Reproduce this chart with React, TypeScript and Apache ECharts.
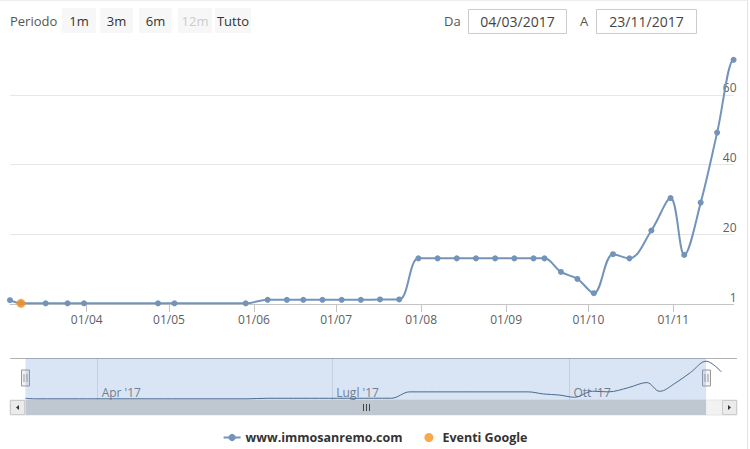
import React, { useEffect, useRef } from "react";
import * as echarts from "echarts";

// ---- data ----
const pointDates = [
  "2017-03-04", "2017-03-08", "2017-03-17", "2017-03-25", "2017-03-31", "2017-04-27", "2017-05-03", "2017-05-29",
  "2017-06-06", "2017-06-13", "2017-06-19", "2017-06-26", "2017-07-03", "2017-07-10", "2017-07-17", "2017-07-24",
  "2017-07-31", "2017-08-07", "2017-08-14", "2017-08-21", "2017-08-28", "2017-09-04", "2017-09-11", "2017-09-15",
  "2017-09-21", "2017-09-27", "2017-10-03", "2017-10-10", "2017-10-16", "2017-10-24", "2017-10-31", "2017-11-05",
  "2017-11-11", "2017-11-17", "2017-11-23", "2017-11-29",
];
const pointValues = [
  1.1, 0.2, 0.2, 0.2, 0.2, 0.2, 0.2, 0.2,
  1.2, 1.2, 1.2, 1.2, 1.2, 1.2, 1.3, 1.3,
  13.1, 13.1, 13.1, 13.1, 13.1, 13.1, 13.1, 13.1,
  9.2, 7.2, 3.1, 14.3, 13.1, 21.1, 30.4, 14.1,
  29.1, 49.2, 70.1, 50,
];
const eventDates = ["2017-03-08"];
const eventValues = [0.2];

const monthTicks = ["2017-04-01", "2017-05-01", "2017-06-01", "2017-07-01", "2017-08-01", "2017-09-01", "2017-10-01", "2017-11-01"];
const quarterTicks = ["2017-04-01", "2017-07-01", "2017-10-01"];
const quarterLabels = ["Apr '17", "Lugl '17", "Ott '17"];
const yTickValues = [0, 20, 40, 60];
const yTickLabels = ["1", "20", "40", "60"];

const rangeStart = "2017-03-04";
const rangeEnd = "2017-11-23";
const navStart = "2017-02-26";
const navEnd = "2017-12-05";

const periodButtons = ["1m", "3m", "6m", "12m", "Tutto"];
const disabledButton = "12m";
const seriesName = "www.immosanremo.com";
const eventName = "Eventi Google";

// ---- helpers ----
function ts(s: string): number {
  const [y, m, d] = s.split("-").map(Number);
  return new Date(y, m - 1, d).getTime();
}
function pad(n: number): string {
  return n < 10 ? "0" + n : "" + n;
}
function fmtDay(s: string): string {
  const d = new Date(ts(s));
  return pad(d.getDate()) + "/" + pad(d.getMonth() + 1) + "/" + d.getFullYear();
}

const LINE_COLOR = "#7394b8";
const EVENT_COLOR = "#f7931e";
const FONT = "'Open Sans', 'DejaVu Sans', sans-serif";
const NAV_TOP = 358;
const NAV_H = 42;

export default function App() {
  const ref = useRef<HTMLDivElement>(null);

  useEffect(() => {
    document.body.style.margin = "0";
    if (!ref.current) return;
    const chart = echarts.init(ref.current, undefined, { renderer: "svg" });

    const lineData = pointDates.map((d, i) => [ts(d), pointValues[i]]);
    const eventData = eventDates.map((d, i) => [ts(d), eventValues[i]]);
    const monthTs = monthTicks.map(ts);
    const quarterTs = quarterTicks.map(ts);

    chart.setOption({
      animation: false,
      backgroundColor: "#ffffff",
      grid: [
        { left: 10, right: 16.4, top: 25.3, height: 278.7 },
        { left: 10, right: 13, top: NAV_TOP, height: NAV_H },
      ],
      legend: {
        data: [seriesName, eventName],
        left: "center",
        top: 431,
        padding: 0,
        itemWidth: 17,
        itemHeight: 9,
        itemGap: 22,
        textStyle: { fontFamily: FONT, fontWeight: "bold", fontSize: 12.5, color: "#333333" },
      },
      xAxis: [
        {
          type: "value",
          gridIndex: 0,
          min: ts(rangeStart),
          max: ts(rangeEnd),
          axisLine: { lineStyle: { color: "#c4c4c4" } },
          axisTick: { show: true, length: 8, lineStyle: { color: "#c4c4c4" }, customValues: monthTs },
          axisLabel: {
            customValues: monthTs,
            formatter: (v: number) => {
              const d = new Date(v);
              return pad(d.getDate()) + "/" + pad(d.getMonth() + 1);
            },
            color: "#606060",
            fontSize: 12,
            fontFamily: FONT,
            margin: 9,
          },
          splitLine: { show: false },
        },
        {
          type: "value",
          gridIndex: 1,
          min: ts(navStart),
          max: ts(navEnd),
          axisLine: { show: false },
          axisTick: { show: false },
          splitLine: { show: false },
          axisLabel: {
            customValues: quarterTs,
            inside: true,
            align: "left",
            verticalAlign: "bottom",
            margin: 2,
            padding: [0, 0, 0, 4],
            formatter: (v: number) => {
              const i = quarterTs.indexOf(v);
              return i >= 0 ? quarterLabels[i] : "";
            },
            color: "#777777",
            fontSize: 12,
            fontFamily: FONT,
          },
        },
      ],
      yAxis: [
        {
          type: "value",
          gridIndex: 0,
          position: "right",
          min: 0,
          max: 80,
          interval: 20,
          axisLine: { show: false },
          axisTick: { show: false },
          splitLine: {
            lineStyle: { color: ["#c4c4c4", "#e6e6e6", "#e6e6e6", "#e6e6e6", "rgba(0,0,0,0)"] },
          },
          axisLabel: {
            inside: true,
            showMaxLabel: false,
            margin: -3,
            verticalAlign: "bottom",
            padding: [0, 0, 1, 0],
            formatter: (v: number) => {
              const i = yTickValues.indexOf(v);
              return i >= 0 ? yTickLabels[i] : "";
            },
            color: "#606060",
            fontSize: 12,
            fontFamily: FONT,
          },
        },
        { type: "value", gridIndex: 1, min: -2, max: 76, show: false },
      ],
      series: [
        {
          name: seriesName,
          type: "line",
          xAxisIndex: 0,
          yAxisIndex: 0,
          data: lineData,
          smooth: 0.35,
          symbol: "circle",
          symbolSize: 6,
          showAllSymbol: true,
          itemStyle: { color: LINE_COLOR },
          lineStyle: { color: LINE_COLOR, width: 2 },
          clip: true,
          silent: true,
          z: 3,
        },
        {
          name: eventName,
          type: "scatter",
          xAxisIndex: 0,
          yAxisIndex: 0,
          data: eventData,
          symbol: "circle",
          symbolSize: 9,
          itemStyle: { color: EVENT_COLOR },
          silent: true,
          z: 4,
        },
        {
          name: "navigator",
          type: "line",
          xAxisIndex: 1,
          yAxisIndex: 1,
          data: lineData,
          smooth: 0.35,
          showSymbol: false,
          lineStyle: { color: "#4a6a8c", width: 1 },
          silent: true,
          markArea: {
            silent: true,
            itemStyle: { color: "rgba(105,150,215,0.25)" },
            data: [[{ xAxis: ts(rangeStart) }, { xAxis: ts(rangeEnd) }]],
          },
          markLine: {
            silent: true,
            symbol: ["none", "none"],
            label: { show: false },
            lineStyle: { color: "rgba(0,0,0,0.09)", type: "solid", width: 1 },
            data: quarterTs.map((t) => ({ xAxis: t })),
          },
        },
      ],
    });

    // ---- chrome: range selector header, navigator outline, handles and scrollbar ----
    const px = (s: string) => chart.convertToPixel({ xAxisIndex: 1 }, ts(s)) as number;
    const x0 = px(rangeStart);
    const x1 = px(rangeEnd);
    const nl = px(navStart);
    const nr = px(navEnd);
    const sbY = NAV_TOP + NAV_H;
    const sbH = 15;
    const hY = NAV_TOP + 12;

    const g: any[] = [];
    g.push({ type: "line", shape: { x1: 747.5, y1: 0, x2: 747.5, y2: 449 }, style: { stroke: "#e3e3e3", lineWidth: 1 } });
    g.push({ type: "line", shape: { x1: 0, y1: 0.5, x2: 747, y2: 0.5 }, style: { stroke: "#eeeeee", lineWidth: 1 } });

    g.push({
      type: "text", x: 10, y: 21,
      style: { text: "Periodo", fill: "#555555", font: "13px " + FONT, verticalAlign: "middle", align: "left" },
    });
    const btnX = [62, 100, 139, 178, 215];
    const btnW = [34, 33, 33, 34, 36];
    periodButtons.forEach((b, i) => {
      g.push({ type: "rect", shape: { x: btnX[i], y: 8, width: btnW[i], height: 25 }, style: { fill: "#f7f7f7" } });
      g.push({
        type: "text", x: btnX[i] + btnW[i] / 2, y: 21,
        style: {
          text: b, fill: b === disabledButton ? "#cccccc" : "#333333",
          font: "13px " + FONT, align: "center", verticalAlign: "middle",
        },
      });
    });
    g.push({ type: "text", x: 444, y: 21, style: { text: "Da", fill: "#555555", font: "13px " + FONT, verticalAlign: "middle" } });
    g.push({ type: "rect", shape: { x: 468.5, y: 9.5, width: 98, height: 24 }, style: { fill: "#ffffff", stroke: "#cccccc", lineWidth: 1 } });
    g.push({
      type: "text", x: 517.5, y: 21,
      style: { text: fmtDay(rangeStart), fill: "#444444", font: "14px " + FONT, align: "center", verticalAlign: "middle" },
    });
    g.push({ type: "text", x: 580, y: 21, style: { text: "A", fill: "#555555", font: "13px " + FONT, verticalAlign: "middle" } });
    g.push({ type: "rect", shape: { x: 596.5, y: 9.5, width: 100, height: 24 }, style: { fill: "#ffffff", stroke: "#cccccc", lineWidth: 1 } });
    g.push({
      type: "text", x: 646.5, y: 21,
      style: { text: fmtDay(rangeEnd), fill: "#444444", font: "14px " + FONT, align: "center", verticalAlign: "middle" },
    });

    g.push({ type: "line", shape: { x1: nl, y1: NAV_TOP + 0.5, x2: nr, y2: NAV_TOP + 0.5 }, style: { stroke: "#b3b3b3", lineWidth: 1 } });

    g.push({ type: "rect", shape: { x: nl, y: sbY, width: nr - nl, height: sbH }, style: { fill: "#f2f2f2", stroke: "#e6e6e6", lineWidth: 1 } });
    g.push({ type: "rect", shape: { x: x0, y: sbY, width: x1 - x0, height: sbH }, style: { fill: "#bfc8d1" } });
    g.push({ type: "rect", shape: { x: nl + 0.5, y: sbY + 0.5, width: 14, height: sbH - 1 }, style: { fill: "#ebebeb", stroke: "#cccccc", lineWidth: 1 } });
    g.push({ type: "polygon", shape: { points: [[nl + 9, sbY + 5], [nl + 9, sbY + 10], [nl + 6, sbY + 7.5]] }, style: { fill: "#333333" } });
    g.push({ type: "rect", shape: { x: nr - 14.5, y: sbY + 0.5, width: 14, height: sbH - 1 }, style: { fill: "#ebebeb", stroke: "#cccccc", lineWidth: 1 } });
    g.push({ type: "polygon", shape: { points: [[nr - 9, sbY + 5], [nr - 9, sbY + 10], [nr - 6, sbY + 7.5]] }, style: { fill: "#333333" } });
    const cx = Math.round((x0 + x1) / 2) + 0.5;
    [-3, 0, 3].forEach((d) => {
      g.push({ type: "line", shape: { x1: cx + d, y1: sbY + 4, x2: cx + d, y2: sbY + 11 }, style: { stroke: "#444444", lineWidth: 1 } });
    });

    [x0, x1].forEach((hx) => {
      const rx = Math.round(hx) + 0.5;
      g.push({ type: "rect", shape: { x: rx - 4, y: hY, width: 8, height: 16 }, style: { fill: "#f2f2f2", stroke: "#999999", lineWidth: 1 } });
      g.push({ type: "line", shape: { x1: rx - 1.5, y1: hY + 4, x2: rx - 1.5, y2: hY + 12 }, style: { stroke: "#999999", lineWidth: 1 } });
      g.push({ type: "line", shape: { x1: rx + 1.5, y1: hY + 4, x2: rx + 1.5, y2: hY + 12 }, style: { stroke: "#999999", lineWidth: 1 } });
    });

    chart.setOption({ graphic: g });

    return () => {
      chart.dispose();
    };
  }, []);

  return <div ref={ref} style={{ width: 750, height: 449 }} />;
}
